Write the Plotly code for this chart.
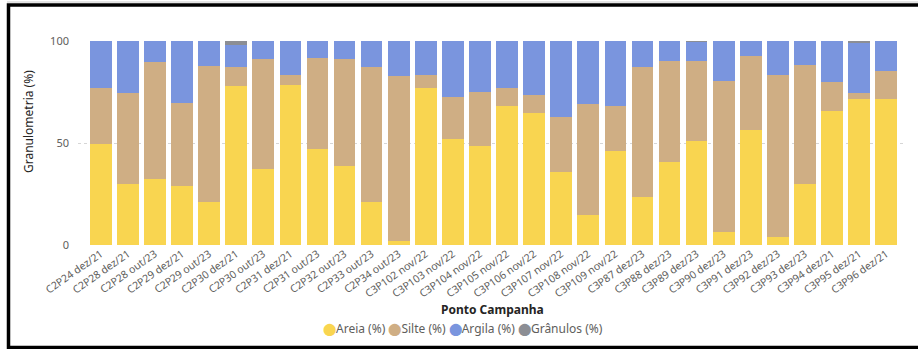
import plotly.graph_objects as go

categorias = ["C2P24 dez/21", "C2P28 dez/21", "C2P28 out/23", "C2P29 dez/21", "C2P29 out/23",
              "C2P30 dez/21", "C2P30 out/23", "C2P31 dez/21", "C2P31 out/23", "C2P32 out/23",
              "C2P33 out/23", "C2P34 out/23", "C3P102 nov/22", "C3P103 nov/22", "C3P104 nov/22",
              "C3P105 nov/22", "C3P106 nov/22", "C3P107 nov/22", "C3P108 nov/22", "C3P109 nov/22",
              "C3P87 dez/23", "C3P88 dez/23", "C3P89 dez/23", "C3P90 dez/23", "C3P91 dez/23",
              "C3P92 dez/23", "C3P93 dez/23", "C3P94 dez/21", "C3P95 dez/21", "C3P96 dez/21"]

areia = [49.3, 29.8, 32.4, 29.1, 21.3, 77.9, 37.2, 78.4, 47.1, 38.8,
         21.3, 2.1, 77.2, 52.0, 48.6, 68.1, 64.6, 35.7, 14.6, 46.2,
         23.6, 40.6, 51.1, 6.2, 56.5, 4.1, 29.8, 65.5, 71.7, 71.4]
silte = [27.5, 44.8, 57.5, 40.3, 66.4, 9.5, 54.1, 4.9, 44.7, 52.5,
         66.1, 80.7, 6.1, 20.7, 26.2, 9.1, 8.9, 27.1, 54.6, 21.9,
         63.8, 49.7, 39.2, 74.2, 36.0, 79.2, 58.3, 14.4, 2.9, 13.9]
argila = [23.2, 25.4, 10.1, 30.6, 12.3, 10.8, 8.7, 16.7, 8.2, 8.7,
          12.6, 17.2, 16.7, 27.3, 25.2, 22.8, 26.5, 37.2, 30.8, 31.9,
          12.6, 9.7, 9.4, 19.6, 7.5, 16.7, 11.9, 20.1, 24.7, 14.7]
granulos = [0, 0, 0, 0, 0, 1.8, 0, 0, 0, 0,
            0, 0, 0, 0, 0, 0, 0, 0, 0, 0,
            0, 0, 0.3, 0, 0, 0, 0, 0, 0.7, 0]

nomes = ["Areia (%)", "Silte (%)", "Argila (%)", "Grânulos (%)"]
cores = ["#F9D550", "#CFAE84", "#7A95DE", "#8C8E94"]
valores = [areia, silte, argila, granulos]

FONT = "Segoe UI, Noto Sans, Open Sans, sans-serif"

fig = go.Figure()
for name, vals, col in zip(nomes, valores, cores):
    fig.add_trace(go.Bar(x=categorias, y=vals, name=name,
                         marker=dict(color=col, line=dict(width=0))))

W, H = 918, 349
L, R, T, B = 78, 12, 41, 104
pw, ph = W - L - R, H - T - B

def px(x):
    return (x - L) / pw

def py(y):
    return (H - B - y) / ph

fig.update_layout(
    width=W, height=H,
    margin=dict(l=L, r=R, t=T, b=B, autoexpand=False),
    barmode="stack", bargap=0.2,
    plot_bgcolor="white", paper_bgcolor="white",
    font=dict(family=FONT, size=11, color="#605E5C"),
    xaxis=dict(range=[-0.84, 29.73], tickangle=-35, showgrid=False, zeroline=False,
               tickfont=dict(size=10.5, color="#605E5C"), ticks="", showline=False),
    yaxis=dict(range=[0, 100], tickvals=[0, 50, 100], showgrid=True, gridcolor="#D6D6D6",
               griddash="dot", gridwidth=1, zeroline=False, ticks="",
               tickfont=dict(size=11, color="#605E5C"), ticklabelstandoff=8),
    showlegend=False,
)

legend_html = "&nbsp;".join(
    f"<span style='color:{c}'>⬤</span>{n}" for n, c in zip(nomes, cores))
fig.add_annotation(text=legend_html, xref="paper", yref="paper", x=px(463), y=py(328),
                   showarrow=False, font=dict(size=12, color="#605E5C"),
                   xanchor="center", yanchor="middle")

fig.add_annotation(text="<b>Ponto Campanha</b>", xref="paper", yref="paper", x=0.5, y=py(309),
                   showarrow=False, font=dict(size=12, color="#252423"),
                   xanchor="center", yanchor="middle")
fig.add_annotation(text="Granulometria (%)", xref="paper", yref="paper", x=px(28), y=py(122),
                   showarrow=False, textangle=-90, font=dict(size=12, color="#252423"),
                   xanchor="center", yanchor="middle")

# frame
fig.add_shape(type="rect", xref="paper", yref="paper", x0=px(8.5), x1=px(925), y0=py(347.5), y1=py(5),
              line=dict(color="black", width=3.5), fillcolor="rgba(0,0,0,0)", layer="above")
fig.add_shape(type="line", xref="paper", yref="paper", x0=px(7), x1=px(925), y0=py(2), y1=py(2),
              line=dict(color="#C8C8C8", width=1))

fig.write_html("out.html", config={"displayModeBar": False},
               post_script="document.body.style.margin='0';document.body.style.overflow='hidden';")
